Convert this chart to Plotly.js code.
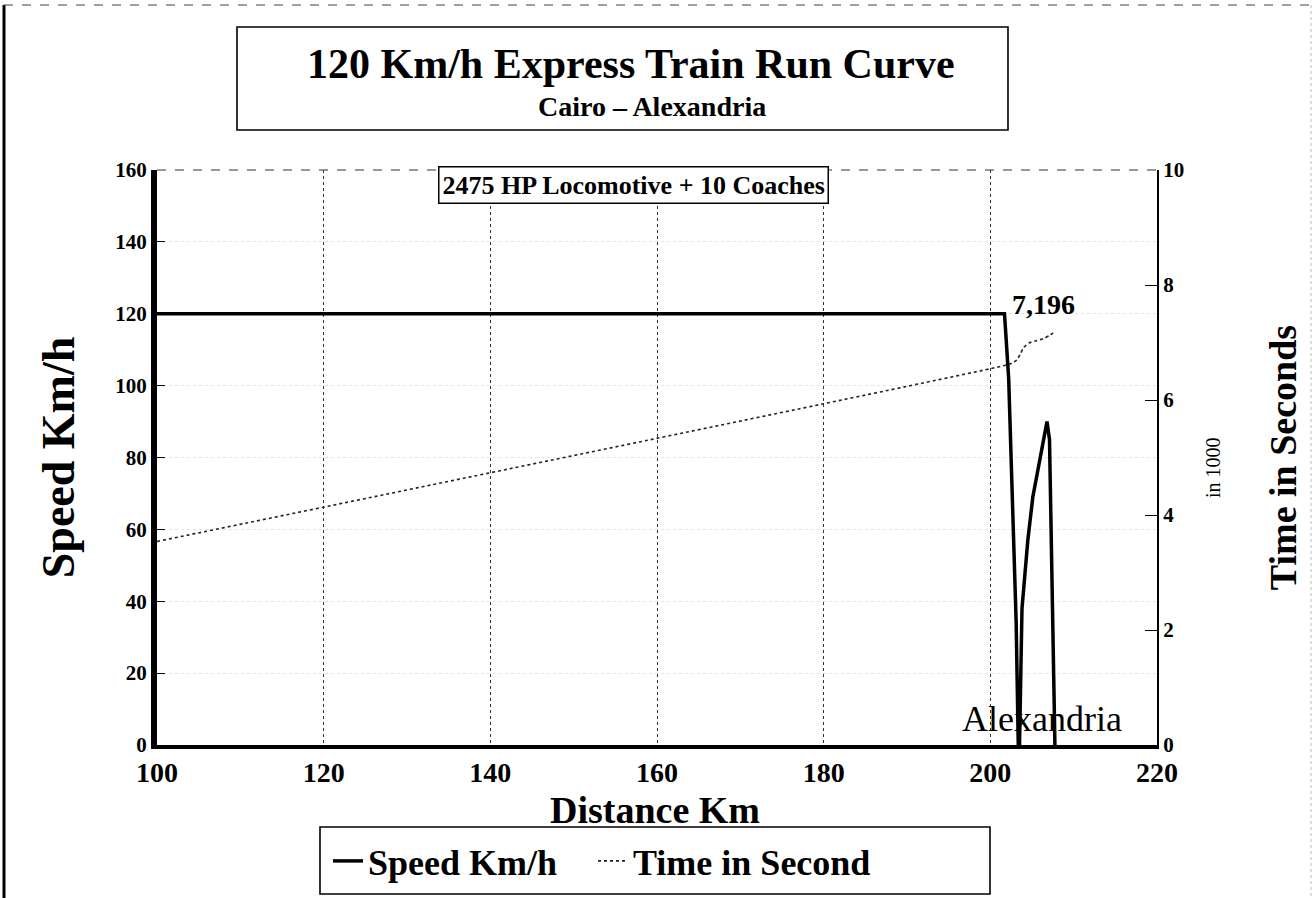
<!DOCTYPE html>
<html>
<head>
<meta charset="utf-8">
<script src="https://cdn.plot.ly/plotly-3.0.1.min.js"></script>
<style>html,body{margin:0;padding:0;background:#fff;}#chart{width:1316px;height:898px;}</style>
</head>
<body>
<div id="chart"></div>
<script>
// ---- data ----
const speedDistanceKm = [100, 201.7, 202.2, 202.8, 203.1, 203.35, 203.5, 203.8, 204.5, 205.1, 206.0, 206.8, 207.1, 207.45, 207.75];
const speedKmh        = [120, 120,   102,   60,    34,    0,      0,     38,    57,    69,    80,    90,    85,    40,     0];
const timeDistanceKm  = [100, 201.7, 202.6, 203.2, 203.6, 204.0, 204.6, 205.5, 206.4, 207.2, 207.8];
const timeSeconds     = [3540, 6600, 6640, 6700, 6800, 6910, 6990, 7030, 7070, 7130, 7196];
const xTicks = [100, 120, 140, 160, 180, 200, 220];
const speedTicks = [0, 20, 40, 60, 80, 100, 120, 140, 160];
const timeTickVals = [0, 2000, 4000, 6000, 8000, 10000];
const timeTickText = ['0', '2', '4', '6', '8', '10'];
const finalTimeLabel = '7,196';

// ---- geometry helpers (pixel -> paper) ----
const W = 1316, H = 898;
const L = 157, R = 1157, T = 170, B = 745;
const px = v => (v - L) / (R - L);
const py = v => (B - v) / (B - T);
const SERIF = '"Liberation Serif", "Times New Roman", serif';
const legendFont = {family: SERIF, size: 36, weight: 'bold', color: '#000'};

const traces = [
  {
    x: speedDistanceKm, y: speedKmh, name: 'Speed Km/h', type: 'scatter', mode: 'lines',
    line: {color: '#000', width: 3.5}, yaxis: 'y', legend: 'legend'
  },
  {
    x: timeDistanceKm, y: timeSeconds, name: 'Time in Second', type: 'scatter', mode: 'lines',
    line: {color: '#222', width: 1.6, dash: 'dot', shape: 'spline', smoothing: 0.6}, yaxis: 'y2', legend: 'legend2'
  }
];

const layout = {
  width: W, height: H,
  paper_bgcolor: '#fff', plot_bgcolor: '#fff',
  margin: {l: L, r: W - R, t: T, b: H - B, autoexpand: false},
  font: {family: SERIF, color: '#000'},
  showlegend: true,
  legend: {
    orientation: 'h', x: px(328), xanchor: 'left', y: py(861), yanchor: 'middle',
    font: legendFont, bgcolor: 'rgba(0,0,0,0)', borderwidth: 0, itemwidth: 30
  },
  legend2: {
    orientation: 'h', x: px(593), xanchor: 'left', y: py(861), yanchor: 'middle',
    font: legendFont, bgcolor: 'rgba(0,0,0,0)', borderwidth: 0, itemwidth: 30
  },
  xaxis: {
    range: [100, 220], tickvals: xTicks, ticks: '', showgrid: true,
    gridcolor: '#333', griddash: 'dot', gridwidth: 1,
    showline: true, linecolor: '#000', linewidth: 4, zeroline: false,
    ticklabelstandoff: -1,
    tickfont: {family: SERIF, size: 28, weight: 'bold', color: '#000'}
  },
  yaxis: {
    range: [0, 160], tickvals: speedTicks, ticks: 'inside', ticklen: 8, tickcolor: '#000',
    showgrid: true, gridcolor: '#e4e4e4', griddash: 'dot', gridwidth: 1,
    showline: true, linecolor: '#000', linewidth: 6, zeroline: false,
    tickfont: {family: SERIF, size: 21, weight: 'bold', color: '#000'},
    title: {text: 'Speed Km/h', font: {family: SERIF, size: 46, weight: 'bold', color: '#000'}, standoff: 28}
  },
  yaxis2: {
    range: [0, 10000], tickvals: timeTickVals, ticktext: timeTickText, overlaying: 'y', side: 'right',
    ticks: 'inside', ticklen: 12, tickcolor: '#000', showgrid: false,
    showline: true, linecolor: '#000', linewidth: 2, zeroline: false,
    tickfont: {family: SERIF, size: 21, weight: 'bold', color: '#000'},
    title: {text: 'Time in Seconds', font: {family: SERIF, size: 38, weight: 'bold', color: '#000'}, standoff: 86}
  },
  shapes: [
    // outer frame
    {type: 'line', xref: 'paper', yref: 'paper', x0: px(4), x1: px(4), y0: py(5), y1: py(898), line: {color: '#000', width: 3}},
    {type: 'line', xref: 'paper', yref: 'paper', x0: px(4), x1: px(1316), y0: py(5), y1: py(5), line: {color: '#444', width: 1.2, dash: 'dash'}},
    {type: 'line', xref: 'paper', yref: 'paper', x0: px(1311), x1: px(1311), y0: py(5), y1: py(898), line: {color: '#bbb', width: 1, dash: 'dot'}},
    // title box
    {type: 'rect', xref: 'paper', yref: 'paper', x0: px(237), x1: px(1008), y0: py(27), y1: py(130), line: {color: '#000', width: 1.6}},
    // plot top border (dashed)
    {type: 'line', xref: 'paper', yref: 'paper', x0: 0, x1: 1, y0: 1, y1: 1, line: {color: '#333', width: 1.2, dash: 'dash'}},
    // legend box
    {type: 'rect', xref: 'paper', yref: 'paper', x0: px(320), x1: px(990), y0: py(827), y1: py(894), line: {color: '#000', width: 1.6}}
  ],
  annotations: [
    {xref: 'paper', yref: 'paper', x: px(631), y: py(64), text: '120 Km/h Express Train Run Curve', showarrow: false,
     font: {family: SERIF, size: 42, weight: 'bold', color: '#000'}, xanchor: 'center', yanchor: 'middle'},
    {xref: 'paper', yref: 'paper', x: px(652), y: py(107), text: 'Cairo – Alexandria', showarrow: false,
     font: {family: SERIF, size: 28, weight: 'bold', color: '#000'}, xanchor: 'center', yanchor: 'middle'},
    {xref: 'paper', yref: 'paper', x: px(655), y: py(810), text: 'Distance Km', showarrow: false,
     font: {family: SERIF, size: 38, weight: 'bold', color: '#000'}, xanchor: 'center', yanchor: 'middle'},
    {xref: 'paper', yref: 'paper', x: px(633), y: py(185), text: '2475 HP Locomotive + 10 Coaches', showarrow: false,
     font: {family: SERIF, size: 26, weight: 'bold', color: '#000'}, xanchor: 'center', yanchor: 'middle',
     bgcolor: '#fff', bordercolor: '#000', borderwidth: 1.5, borderpad: 3},
    {xref: 'paper', yref: 'paper', x: px(1213), y: py(468), text: 'in 1000', showarrow: false, textangle: -90,
     font: {family: SERIF, size: 20, color: '#000'}, xanchor: 'center', yanchor: 'middle'},
    {x: 207.8, y: timeSeconds[timeSeconds.length - 1], xref: 'x', yref: 'y2', text: finalTimeLabel, showarrow: false,
     xanchor: 'center', yanchor: 'bottom', yshift: 9, xshift: -12,
     font: {family: SERIF, size: 28, weight: 'bold', color: '#000'}},
    {x: 206.2, y: 0, xref: 'x', yref: 'y', text: 'Alexandria', showarrow: false,
     xanchor: 'center', yanchor: 'bottom', yshift: 4,
     font: {family: SERIF, size: 36, color: '#000'}}
  ]
};

Plotly.newPlot('chart', traces, layout, {displayModeBar: false, staticPlot: true});
</script>
</body>
</html>
